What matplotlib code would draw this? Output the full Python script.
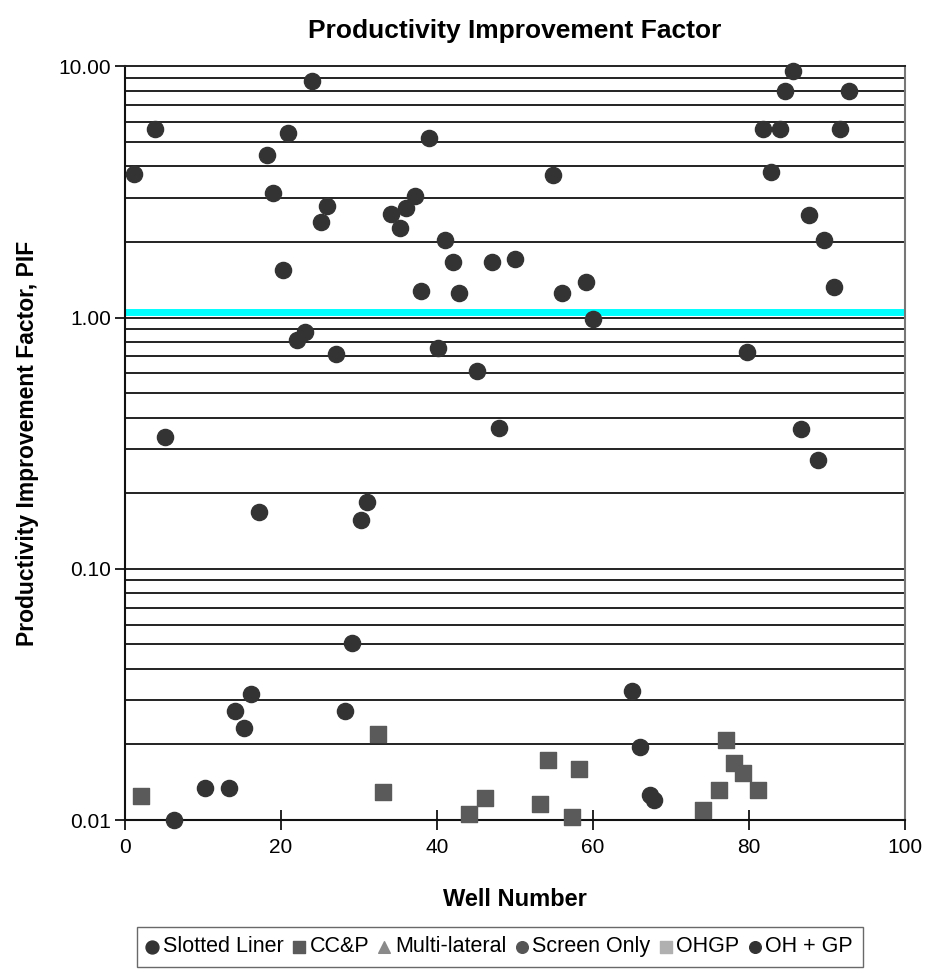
import matplotlib
matplotlib.use("Agg")
import matplotlib.pyplot as plt
import numpy as np
from matplotlib.ticker import LogLocator, FixedLocator

plt.rcParams['font.family'] = ['Liberation Sans', 'DejaVu Sans']

# well number / PIF
slotted_x = [1.15, 3.9, 5.1, 6.3, 10.3, 13.4, 14.1, 15.3, 16.1, 17.2, 18.2, 19.0,
             20.2, 20.9, 22.0, 23.1, 24.0, 25.1, 25.9, 27.1, 28.2, 29.1, 30.3, 31.0,
             34.1, 35.3, 36.0, 37.2, 38.0, 39.0, 40.2, 41.0, 42.1, 42.9, 45.1, 47.1,
             48.0, 50.0, 54.9, 56.0, 59.1, 60.0, 65.0, 66.0, 67.3, 67.9, 79.8, 81.8,
             82.8, 84.0, 84.7, 85.7, 86.7, 87.7, 88.9, 89.7, 90.9, 91.7, 92.8]
slotted_y = [3.72, 5.65, 0.335, 0.010, 0.0134, 0.0134, 0.0272, 0.0232, 0.0317, 0.168, 4.43, 3.12,
             1.54, 5.43, 0.812, 0.877, 8.75, 2.40, 2.78, 0.719, 0.0272, 0.0509, 0.157, 0.185,
             2.59, 2.27, 2.72, 3.05, 1.27, 5.19, 0.757, 2.04, 1.66, 1.25, 0.612, 1.66,
             0.362, 1.71, 3.69, 1.25, 1.39, 0.99, 0.0326, 0.0196, 0.0126, 0.0120, 0.726, 5.65,
             3.78, 5.65, 7.96, 9.55, 0.36, 2.57, 0.271, 2.04, 1.32, 5.65, 7.96]

ccp_x = [2.05, 32.4, 33.1, 44.1, 46.2, 53.2, 54.3, 57.3, 58.2, 74.1, 76.2, 77.1, 78.1, 79.3, 81.2]
ccp_y = [0.0125, 0.0220, 0.0129, 0.0106, 0.0123, 0.01155, 0.0173, 0.0103, 0.0159, 0.0110,
         0.0132, 0.0208, 0.0168, 0.0154, 0.0132]

# no points visible for these, they only appear in the legend
multilat_x, multilat_y = [], []
screen_x, screen_y = [], []
ohgp_x, ohgp_y = [], []
ohgp2_x, ohgp2_y = [], []

fig = plt.figure(figsize=(9.26, 9.74), dpi=100)
ax = fig.add_axes([0.135, 0.158, 0.842, 0.774])

ax.set_yscale('log')
ax.set_ylim(0.01, 10)
ax.set_xlim(0, 100)

# black lines at every log step
for dec in [0.01, 0.1, 1]:
    for k in range(1, 10):
        ax.axhline(dec * k, color='#222222', lw=1.4, zorder=1)
ax.axhline(1.05, color='#00ffff', lw=5, zorder=2)

ax.scatter(slotted_x, slotted_y, s=135, marker='o', color='#333333', label='Slotted Liner',
           zorder=3, clip_on=False)
ax.scatter(ccp_x, ccp_y, s=120, marker='s', color='#5a5a5a', label='CC&P', zorder=3, clip_on=False)
ax.scatter(multilat_x, multilat_y, s=110, marker='^', color='#8a8a8a', label='Multi-lateral')
ax.scatter(screen_x, screen_y, s=110, marker='o', color='#555555', label='Screen Only')
ax.scatter(ohgp_x, ohgp_y, s=110, marker='s', color='#b0b0b0', label='OHGP')
ax.scatter(ohgp2_x, ohgp2_y, s=110, marker='o', color='#333333', label='OH + GP')

ax.yaxis.set_major_locator(FixedLocator([0.01, 0.1, 1, 10]))
ax.yaxis.set_minor_locator(LogLocator(base=10, subs=np.arange(2, 10)))
ax.set_yticklabels(['0.01', '0.10', '1.00', '10.00'])
ax.tick_params(axis='y', which='major', direction='out', length=7, width=1.2, labelsize=15, pad=3)
ax.tick_params(axis='y', which='minor', length=0)
ax.set_xticks([0, 20, 40, 60, 80, 100])
ax.tick_params(axis='x', direction='inout', length=14, width=1.2, labelsize=15, pad=6)

for side in ['left', 'bottom']:
    ax.spines[side].set_linewidth(1.5)
    ax.spines[side].set_color('#111111')
ax.spines['right'].set_color('#777777')
ax.spines['right'].set_linewidth(1.5)
ax.spines['top'].set_color('#222222')
ax.spines['top'].set_linewidth(1.4)

ax.set_title('Productivity Improvement Factor', fontsize=19, fontweight='bold', pad=20)
ax.set_xlabel('Well Number', fontsize=17, fontweight='bold', labelpad=22)
ax.set_ylabel('Productivity Improvement Factor, PIF', fontsize=16.5, fontweight='bold', labelpad=14)

leg = fig.legend(loc='center', bbox_to_anchor=(0.54, 0.028), ncol=6, fontsize=15.5,
                 handlelength=0.5, handletextpad=0.25, columnspacing=0.45, borderpad=0.45,
                 fancybox=False, edgecolor='#444444', markerscale=0.8)
leg.get_frame().set_linewidth(1.0)

fig.savefig('out.png', dpi=100)
